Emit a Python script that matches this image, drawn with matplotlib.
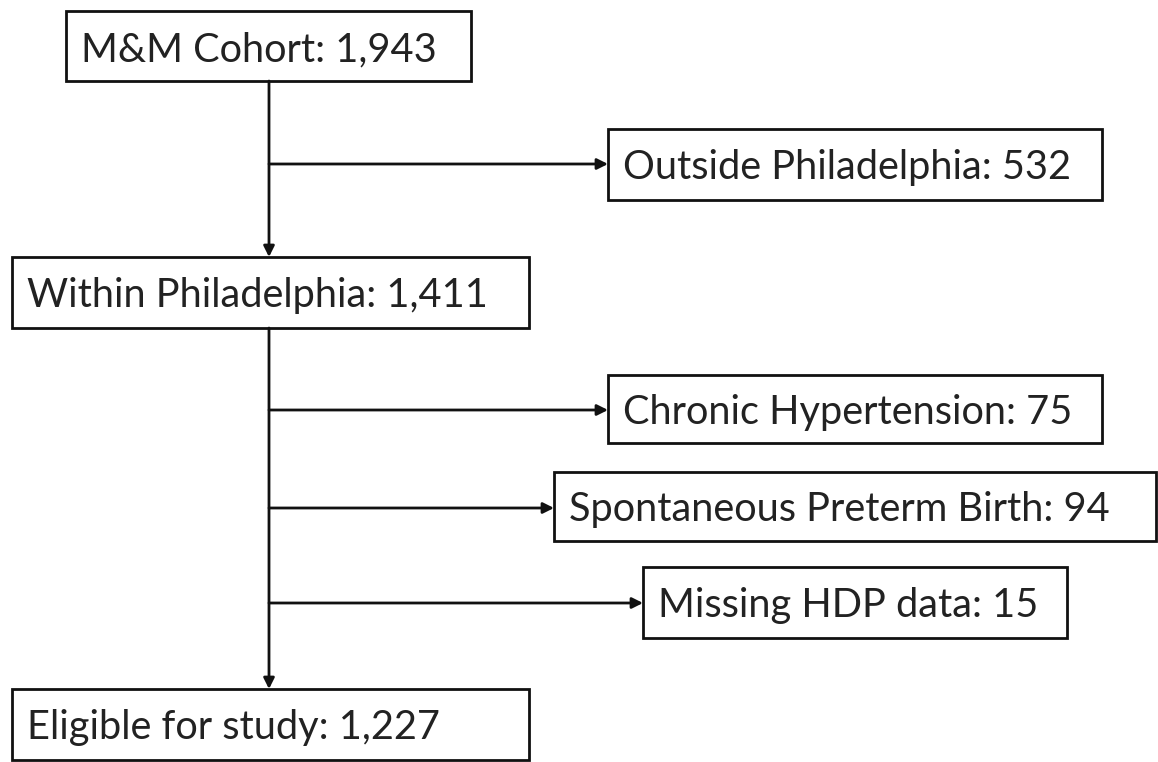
import matplotlib.pyplot as plt
from matplotlib.patches import Rectangle

# flow counts
main_labels = ["M&M Cohort", "Within Philadelphia", "Eligible for study"]
main_counts = [1943, 1411, 1227]
excl_labels = ["Outside Philadelphia", "Chronic Hypertension",
               "Spontaneous Preterm Birth", "Missing HDP data"]
excl_counts = [532, 75, 94, 15]

# layout in image pixels: (x0, y0, x1, y1)
main_boxes = [(66, 11, 471, 81), (12, 257, 529, 328), (12, 689, 529, 760)]
excl_boxes = [(608, 129, 1102, 200), (608, 375, 1102, 443),
              (554, 472, 1156, 541), (643, 567, 1067, 638)]
excl_arrow_y = [164, 410, 508, 603]
trunk_x = 269

plt.rcParams["font.family"] = ["Lato", "DejaVu Sans"]
LW = 2.0
FS = 28.6

fig = plt.figure(figsize=(11.58, 7.62), dpi=100, facecolor="white")
ax = fig.add_axes([0, 0, 1, 1])
ax.set_xlim(0, 1158)
ax.set_ylim(762, 0)
ax.set_axis_off()


def box(b, text):
    x0, y0, x1, y1 = b
    ax.add_patch(Rectangle((x0, y0), x1 - x0, y1 - y0, fill=False,
                           edgecolor="#111111", linewidth=LW, zorder=2))
    ax.text(x0 + 15, (y0 + y1) / 2, text, fontsize=FS, color="#222222",
            ha="left", va="center_baseline", zorder=3)


def arrow(x0, y0, x1, y1):
    ax.annotate("", xy=(x1, y1), xytext=(x0, y0),
                arrowprops=dict(arrowstyle="-|>", color="#111111", lw=LW,
                                mutation_scale=16, shrinkA=0, shrinkB=0))


for b, lab, n in zip(main_boxes, main_labels, main_counts):
    box(b, f"{lab}: {n:,}")
for b, lab, n in zip(excl_boxes, excl_labels, excl_counts):
    box(b, f"{lab}: {n:,}")

# trunk
arrow(trunk_x, main_boxes[0][3], trunk_x, main_boxes[1][1])
arrow(trunk_x, main_boxes[1][3], trunk_x, main_boxes[2][1])
for b, y in zip(excl_boxes, excl_arrow_y):
    arrow(trunk_x, y, b[0], y)

fig.savefig("out.png", dpi=100, facecolor="white")
